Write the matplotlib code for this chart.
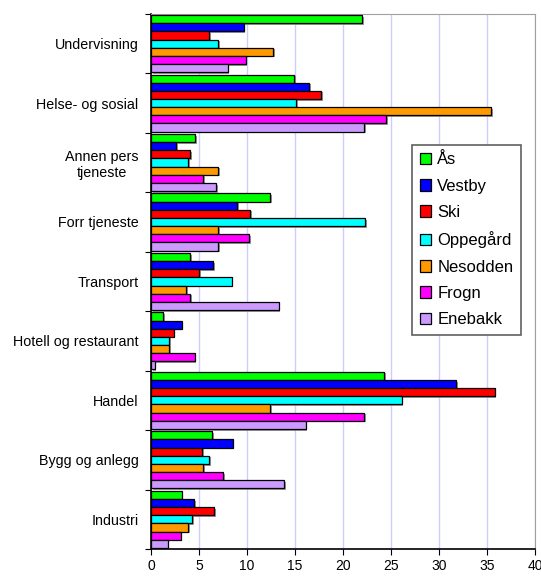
import numpy as np
import matplotlib
matplotlib.use("Agg")
import matplotlib.pyplot as plt
import matplotlib.patheffects as pe

plt.rcParams['font.family'] = ['Liberation Sans', 'DejaVu Sans']

# sektorer, ovenfra og ned
sektorer = ["Undervisning", "Helse- og sosial", "Annen pers\ntjeneste", "Forr tjeneste",
            "Transport", "Hotell og restaurant", "Handel", "Bygg og anlegg", "Industri"]

kommuner = ["Ås", "Vestby", "Ski", "Oppegård", "Nesodden", "Frogn", "Enebakk"]
farger = ["#00ff00", "#0000ff", "#ff0000", "#00ffff", "#ff9900", "#ff00ff", "#cc99ff"]

aas      = [22.0, 14.9, 4.6, 12.4, 4.1, 1.25, 24.3, 6.4, 3.2]
vestby   = [9.65, 16.5, 2.6, 9.0, 6.5, 3.2, 31.8, 8.5, 4.5]
ski      = [6.05, 17.7, 4.1, 10.35, 5.0, 2.35, 35.8, 5.3, 6.55]
oppegaard = [7.0, 15.1, 3.85, 22.3, 8.4, 1.9, 26.1, 6.05, 4.3]
nesodden = [12.7, 35.4, 7.0, 7.0, 3.7, 1.9, 12.4, 5.45, 3.85]
frogn    = [9.85, 24.5, 5.45, 10.25, 4.1, 4.55, 22.2, 7.5, 3.1]
enebakk  = [8.0, 22.2, 6.8, 7.0, 13.3, 0.38, 16.1, 13.9, 1.75]

serier = [aas, vestby, ski, oppegaard, nesodden, frogn, enebakk]

fig = plt.figure(figsize=(5.41, 5.77), dpi=100)
ax = fig.add_axes([0.279, 0.0485, 0.710, 0.9275])

n = len(sektorer)
k = len(serier)
gruppe = 0.96
h = gruppe / k
ypos = np.arange(n)

skygge = [pe.SimplePatchShadow(offset=(1.2, -1.2), shadow_rgbFace="#808080", alpha=0.8), pe.Normal()]

for i, (navn, vals, c) in enumerate(zip(kommuner, serier, farger)):
    y = ypos - gruppe / 2 + h * (i + 0.5)
    bars = ax.barh(y, vals, height=h, color=c, edgecolor="black", linewidth=0.9,
                   label=navn, zorder=3)
    for b in bars:
        b.set_path_effects(skygge)

ax.set_ylim(n - 0.5, -0.5)
ax.set_xlim(0, 40)
ax.set_xticks(np.arange(0, 41, 5))
ax.set_yticks(np.arange(n + 1) - 0.5)
ax.set_yticklabels([])
ax.set_yticks(ypos, minor=True)
ax.set_yticklabels(sektorer, minor=True, fontsize=10.3)
ax.tick_params(axis="y", which="minor", length=0, pad=9)
ax.tick_params(axis="y", which="major", length=4, width=0.8, direction="out")
ax.tick_params(axis="x", length=4, width=0.8, direction="out", labelsize=10)
for lbl in ax.get_yticklabels(minor=True):
    lbl.set_multialignment("center")

ax.grid(axis="x", color="#ccccff", linewidth=1, zorder=0)
ax.set_axisbelow(True)

ax.spines["top"].set_color("#a0a0a0")
ax.spines["right"].set_color("#a0a0a0")
ax.spines["left"].set_color("black")
ax.spines["bottom"].set_color("black")
ax.spines["left"].set_linewidth(1.2)
ax.spines["bottom"].set_linewidth(1.2)

leg = ax.legend(loc="upper left", bbox_to_anchor=(0.68, 0.755), borderaxespad=0,
                fontsize=12, handlelength=0.7, handleheight=0.7, handletextpad=0.35,
                labelspacing=0.68, borderpad=0.45, fancybox=False, framealpha=1,
                edgecolor="#606060")
leg.get_frame().set_linewidth(1.2)
for p in leg.get_patches():
    p.set_path_effects([pe.Normal()])

fig.savefig("out.png", dpi=100)
